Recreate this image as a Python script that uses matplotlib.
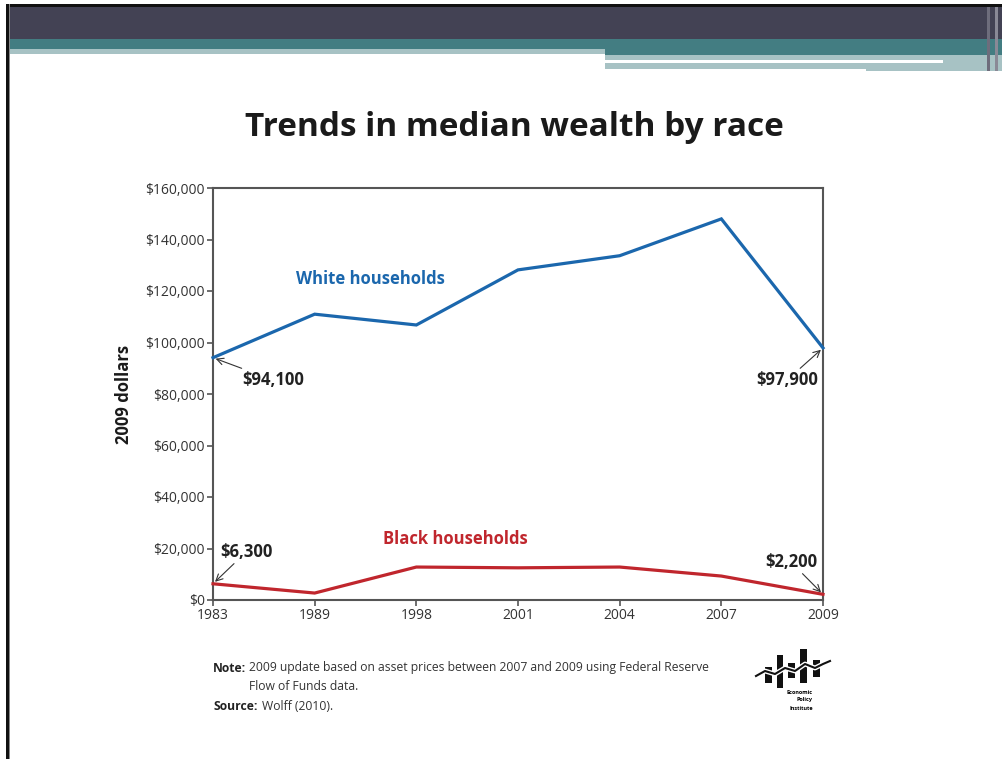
import matplotlib
matplotlib.use("Agg")
import matplotlib.pyplot as plt
from matplotlib.patches import Rectangle
from matplotlib.lines import Line2D

years = ["1983", "1989", "1998", "2001", "2004", "2007", "2009"]
white = [94100, 111000, 106800, 128200, 133700, 148000, 97900]
black = [6300, 2700, 12800, 12500, 12800, 9300, 2200]
yticks = [0, 20000, 40000, 60000, 80000, 100000, 120000, 140000, 160000]

W, H = 1003, 759
plt.rcParams['font.family'] = ['Open Sans', 'DejaVu Sans']
fig = plt.figure(figsize=(W / 100, H / 100), dpi=100)

def px(x0, y0, x1, y1, color, z=0):
    fig.patches.append(Rectangle((x0 / W, 1 - y1 / H), (x1 - x0) / W, (y1 - y0) / H,
                                 transform=fig.transFigure, facecolor=color,
                                 edgecolor='none', zorder=z))

# slide header decoration
px(8, 4, 1003, 7, '#111111')
px(8, 7, 1003, 39, '#434254')
px(8, 39, 1003, 49, '#437d82')
px(8, 49, 605, 54, '#a7c2c4')
px(605, 49, 1003, 55, '#437d82')
px(605, 55, 1003, 69, '#a7c2c4')
px(866, 69, 1003, 71, '#a7c2c4')
px(605, 60, 943, 63, '#ffffff')
px(987, 7, 990, 71, '#6e6d7c')
px(995, 7, 998, 71, '#8a8996')
px(6, 4, 9, 759, '#111111')
px(9, 4, 10, 759, '#888888')

blue = '#1b67ad'
red = '#c0262d'
ax = fig.add_axes([213 / W, 1 - 600 / H, (823 - 213) / W, (600 - 188) / H])
x = list(range(len(years)))
ax.plot(x, white, color=blue, lw=2.3, solid_joinstyle='miter', clip_on=False, zorder=3)
ax.plot(x, black, color=red, lw=2.3, solid_joinstyle='miter', clip_on=False, zorder=3)
ax.set_xlim(0, len(years) - 1)
ax.set_ylim(0, 160000)
ax.set_xticks(x)
ax.set_xticklabels(years)
ax.set_yticks(yticks)
ax.set_yticklabels(['${:,}'.format(v) for v in yticks])
for s in ax.spines.values():
    s.set_color('#555555')
    s.set_linewidth(1.5)
ax.tick_params(axis='both', direction='out', length=4, width=1.2, color='#555555',
               labelsize=10, labelcolor='#333333', pad=2)
ax.set_ylabel('2009 dollars', fontsize=12, fontweight='bold', color='#1a1a1a', labelpad=9)

ax.text(0.82, 124700, 'White households', color=blue, fontsize=12, fontweight='bold', va='center')
ax.text(1.67, 23700, 'Black households', color=red, fontsize=12, fontweight='bold', va='center')

akw = dict(arrowstyle='->', color='#333333', lw=0.8, shrinkA=0, shrinkB=2)
ax.annotate('$94,100', xy=(0, white[0]), xytext=(0.29, 85400), fontsize=12, fontweight='bold',
            color='#222222', va='center', ha='left', arrowprops=akw)
ax.annotate('$97,900', xy=(6, white[-1]), xytext=(5.95, 85400), fontsize=12, fontweight='bold',
            color='#222222', va='center', ha='right', arrowprops=akw)
ax.annotate('$6,300', xy=(0, black[0]), xytext=(0.07, 18700), fontsize=12, fontweight='bold',
            color='#222222', va='center', ha='left', arrowprops=akw)
ax.annotate('$2,200', xy=(6, black[-1]), xytext=(5.94, 14800), fontsize=12, fontweight='bold',
            color='#222222', va='center', ha='right', arrowprops=akw)

fig.text(514 / W, 1 - 128 / H, 'Trends in median wealth by race', ha='center', va='center',
         fontsize=24, fontweight='bold', color='#1a1a1a')

fs = 8.7
fig.text(213 / W, 1 - 668 / H, 'Note:', fontsize=fs, fontweight='bold', color='#222222', va='center')
fig.text(249 / W, 1 - 668 / H, '2009 update based on asset prices between 2007 and 2009 using Federal Reserve',
         fontsize=fs, color='#333333', va='center')
fig.text(249 / W, 1 - 686 / H, 'Flow of Funds data.', fontsize=fs, color='#333333', va='center')
fig.text(213 / W, 1 - 706 / H, 'Source:', fontsize=fs, fontweight='bold', color='#222222', va='center')
fig.text(262 / W, 1 - 706 / H, 'Wolff (2010).', fontsize=fs, color='#333333', va='center')

# EPI logo
for (x0, y0, x1, y1) in [(765, 667, 772, 683), (777, 655, 783, 688), (788, 663, 795, 678),
                         (800, 649, 807, 683), (813, 660, 820, 677)]:
    px(x0, y0, x1, y1, '#111111', z=2)
lx = [756, 765, 775, 785, 795, 805, 815, 823, 830]
ly = [676, 671, 674, 668, 671, 664, 668, 664, 661]
fig.lines.append(Line2D([v / W for v in lx], [1 - v / H for v in ly], transform=fig.transFigure,
                        color='white', lw=3.5, zorder=3))
fig.lines.append(Line2D([v / W for v in lx], [1 - v / H for v in ly], transform=fig.transFigure,
                        color='#111111', lw=1.5, zorder=4))
fig.text(813 / W, 1 - 692 / H, 'Economic', fontsize=4, fontweight='bold', ha='right', va='center')
fig.text(813 / W, 1 - 700 / H, 'Policy', fontsize=4, fontweight='bold', ha='right', va='center')
fig.text(813 / W, 1 - 708 / H, 'Institute', fontsize=4, fontweight='bold', ha='right', va='center')

fig.savefig('out.png', dpi=100, facecolor='white')
